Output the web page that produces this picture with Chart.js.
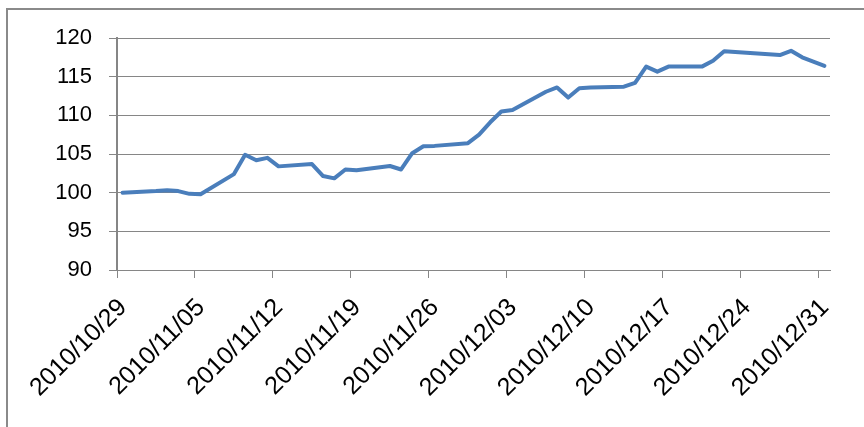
<!DOCTYPE html>
<html>
<head>
<meta charset="utf-8">
<script src="https://cdn.jsdelivr.net/npm/chart.js@4.4.0/dist/chart.umd.min.js"></script>
<style>
    html, body { margin: 0; padding: 0; background: #fff; }
    #wrap { position: relative; width: 864px; height: 427px; overflow: hidden; }
    #frame {
        position: absolute; left: 6px; top: 8px; right: -4px; bottom: -4px;
        border-top: 2px solid #8a8a8a; border-left: 2px solid #8a8a8a;
    }
    canvas { position: absolute; left: 0; top: 0; }
</style>
</head>
<body>
<div id="wrap">
    <div id="frame"></div>
    <canvas id="lineChart" width="864" height="427"></canvas>
</div>
<script>
// Trading days and values
const dates = [
    '2010/10/29',
    '2010/11/01', '2010/11/02', '2010/11/03', '2010/11/04', '2010/11/05',
    '2010/11/08', '2010/11/09', '2010/11/10', '2010/11/11', '2010/11/12',
    '2010/11/15', '2010/11/16', '2010/11/17', '2010/11/18', '2010/11/19',
    '2010/11/22', '2010/11/23', '2010/11/24', '2010/11/25', '2010/11/26',
    '2010/11/29', '2010/11/30', '2010/12/01', '2010/12/02', '2010/12/03',
    '2010/12/06', '2010/12/07', '2010/12/08', '2010/12/09', '2010/12/10',
    '2010/12/13', '2010/12/14', '2010/12/15', '2010/12/16', '2010/12/17',
    '2010/12/20', '2010/12/21', '2010/12/22', '2010/12/23', '2010/12/24',
    '2010/12/27', '2010/12/28', '2010/12/29', '2010/12/30', '2010/12/31'
];
const values = [
    100.0,
    100.2, 100.3, 100.2, 99.85, 99.8,
    102.4, 104.9, 104.2, 104.5, 103.4,
    103.7, 102.15, 101.85, 103.0, 102.9,
    103.45, 103.0, 105.1, 106.0, 106.05,
    106.4, 107.5, 109.1, 110.5, 110.7,
    113.05, 113.6, 112.3, 113.5, 113.6,
    113.7, 114.2, 116.3, 115.65, 116.3,
    116.3, 117.05, 118.3, 118.2, 118.1,
    117.8, 118.35, 117.5, 116.95, 116.4
];
const tickLabels = [
    '2010/10/29', '2010/11/05', '2010/11/12', '2010/11/19', '2010/11/26',
    '2010/12/03', '2010/12/10', '2010/12/17', '2010/12/24', '2010/12/31'
];
const axisEnd = '2011/01/01';

// Days since the first date (date axis, points sit in the middle of their day)
function dayIndex(s) {
    const p = s.split('/').map(Number);
    const t = Date.UTC(p[0], p[1] - 1, p[2]);
    const p0 = dates[0].split('/').map(Number);
    return Math.round((t - Date.UTC(p0[0], p0[1] - 1, p0[2])) / 86400000);
}

const points = dates.map((d, i) => ({ x: dayIndex(d) + 0.5, y: values[i] }));
const tickDays = tickLabels.map(dayIndex);

const gridColor = '#868686';
const font = 'Liberation Sans, Arial, sans-serif';

new Chart(document.getElementById('lineChart'), {
    type: 'line',
    data: {
        datasets: [{
            data: points,
            borderColor: '#4a7ebb',
            borderWidth: 4,
            borderJoinStyle: 'round',
            borderCapStyle: 'round',
            pointRadius: 0,
            tension: 0,
            fill: false
        }]
    },
    options: {
        responsive: false,
        animation: false,
        layout: { padding: { top: 38, right: 34, left: 0, bottom: 0 } },
        plugins: {
            legend: { display: false },
            tooltip: { enabled: false }
        },
        scales: {
            x: {
                type: 'linear',
                min: 0,
                max: dayIndex(axisEnd),
                afterBuildTicks: function(scale) {
                    scale.ticks = tickDays.map(v => ({ value: v }));
                },
                afterFit: function(scale) {
                    scale.height = 157;
                },
                ticks: {
                    autoSkip: false,
                    minRotation: 45,
                    maxRotation: 45,
                    labelOffset: 6,
                    padding: 15,
                    color: '#000',
                    font: { family: font, size: 25 },
                    callback: function(value) {
                        const i = tickDays.indexOf(value);
                        return i >= 0 ? tickLabels[i] : '';
                    }
                },
                grid: {
                    drawOnChartArea: false,
                    drawTicks: true,
                    tickLength: 8,
                    color: gridColor,
                    lineWidth: 1
                },
                border: { color: gridColor, width: 1 }
            },
            y: {
                min: 90,
                max: 120,
                afterFit: function(scale) {
                    scale.width = 117;
                },
                ticks: {
                    stepSize: 5,
                    padding: 17,
                    color: '#000',
                    font: { family: font, size: 22 }
                },
                grid: {
                    color: gridColor,
                    lineWidth: 1,
                    tickLength: 8
                },
                border: { color: gridColor, width: 2 }
            }
        }
    }
});
</script>
</body>
</html>
